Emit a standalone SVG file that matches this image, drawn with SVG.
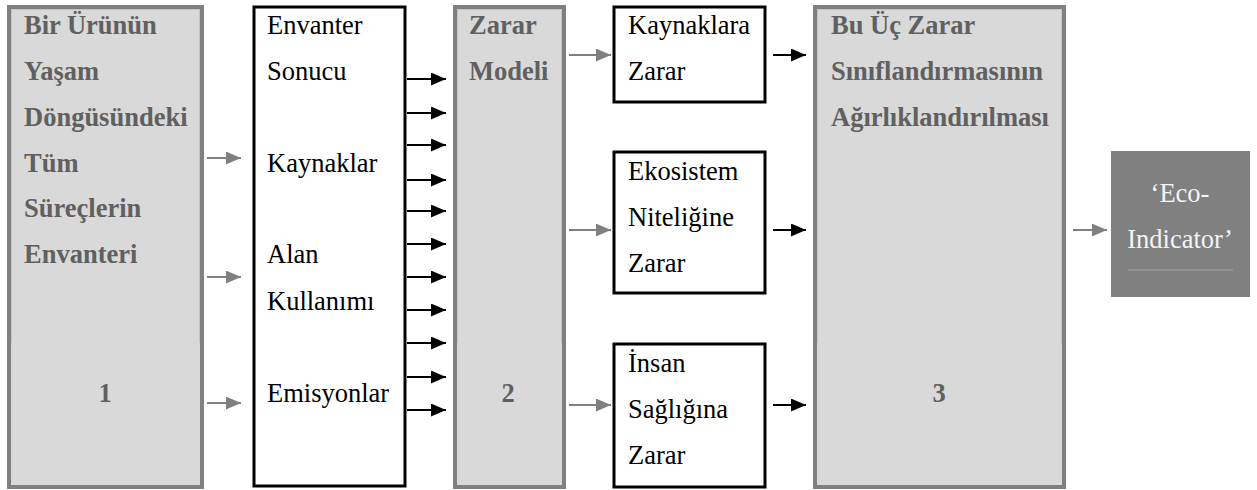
<svg xmlns="http://www.w3.org/2000/svg" width="1257" height="490" viewBox="0 0 1257 490">
  <style>
    .stage { fill: #d9d9d9; stroke: #808080; stroke-width: 4; }
    .cellLine { fill: none; stroke: #c4c4c4; stroke-width: 1; }
    .plain { fill: #ffffff; stroke: #000000; stroke-width: 3; }
    .result { fill: #808080; }
    .hd { font-weight: bold; fill: #606060; }
    .tx { fill: #000000; }
    .wt { fill: #f4f4f4; }
    .mid { text-anchor: middle; }
    .grayArrow { stroke: #808080; stroke-width: 2; fill: none; marker-end: url(#headGray); }
    .blackArrow { stroke: #000000; stroke-width: 2; fill: none; marker-end: url(#headBlack); }
  </style>
  <defs>
    <marker id="headGray" viewBox="0 0 15 13" refX="15" refY="6.5" markerWidth="15" markerHeight="13" markerUnits="userSpaceOnUse" orient="auto">
      <path d="M0,0 L15,6.5 L0,13 Z" fill="#808080"/>
    </marker>
    <marker id="headBlack" viewBox="0 0 15 13" refX="15" refY="6.5" markerWidth="15" markerHeight="13" markerUnits="userSpaceOnUse" orient="auto">
      <path d="M0,0 L15,6.5 L0,13 Z" fill="#000000"/>
    </marker>
  </defs>

  <rect width="1257" height="490" fill="#ffffff"/>

  <g font-family="Liberation Serif, Times New Roman, serif" font-size="26.5">
    <!-- Stage 1: inventory of all processes -->
    <g id="stage1">
      <rect class="stage" x="9" y="7" width="193" height="480"/>
      <path class="cellLine" d="M11.5,343 V9.5 H199.5 V343"/>
      <text class="hd" x="24" y="34">Bir Ürünün</text>
      <text class="hd" x="24" y="80">Yaşam</text>
      <text class="hd" x="24" y="126">Döngüsündeki</text>
      <text class="hd" x="24" y="172">Tüm</text>
      <text class="hd" x="24" y="217">Süreçlerin</text>
      <text class="hd" x="24" y="263">Envanteri</text>
      <text class="hd mid" x="105" y="402">1</text>
    </g>

    <!-- Inventory result -->
    <g id="inventory">
      <rect class="plain" x="254" y="7" width="151" height="479"/>
      <text class="tx" x="267" y="34">Envanter</text>
      <text class="tx" x="267" y="80">Sonucu</text>
      <text class="tx" x="267" y="172">Kaynaklar</text>
      <text class="tx" x="267" y="263">Alan</text>
      <text class="tx" x="267" y="310">Kullanımı</text>
      <text class="tx" x="267" y="402">Emisyonlar</text>
    </g>

    <!-- Stage 2: damage model -->
    <g id="stage2">
      <rect class="stage" x="455" y="7" width="109" height="480"/>
      <path class="cellLine" d="M457.5,343 V9.5 H561.5 V343"/>
      <text class="hd" x="469" y="34">Zarar</text>
      <text class="hd" x="469" y="80">Modeli</text>
      <text class="hd mid" x="508" y="402">2</text>
    </g>

    <!-- Damage categories -->
    <g id="damage-resources">
      <rect class="plain" x="614" y="7" width="151" height="95"/>
      <text class="tx" x="628" y="34">Kaynaklara</text>
      <text class="tx" x="628" y="80">Zarar</text>
    </g>
    <g id="damage-ecosystem">
      <rect class="plain" x="614" y="152" width="151" height="141"/>
      <text class="tx" x="628" y="180">Ekosistem</text>
      <text class="tx" x="628" y="226">Niteliğine</text>
      <text class="tx" x="628" y="272">Zarar</text>
    </g>
    <g id="damage-health">
      <rect class="plain" x="614" y="344" width="151" height="143"/>
      <text class="tx" x="628" y="372">İnsan</text>
      <text class="tx" x="628" y="418">Sağlığına</text>
      <text class="tx" x="628" y="464">Zarar</text>
    </g>

    <!-- Stage 3: weighting -->
    <g id="stage3">
      <rect class="stage" x="815" y="7" width="249" height="480"/>
      <path class="cellLine" d="M817.5,343 V9.5 H1061.5 V343"/>
      <text class="hd" x="831" y="34">Bu Üç Zarar</text>
      <text class="hd" x="831" y="80">Sınıflandırmasının</text>
      <text class="hd" x="831" y="126">Ağırlıklandırılması</text>
      <text class="hd mid" x="939" y="402">3</text>
    </g>

    <!-- Final indicator -->
    <g id="eco-indicator">
      <rect class="result" x="1111" y="151" width="139" height="146"/>
      <text class="wt mid" x="1180" y="202">‘Eco-</text>
      <text class="wt mid" x="1180" y="248">Indicator’</text>
      <line x1="1128" y1="270" x2="1233" y2="270" stroke="#a8a8a8" stroke-width="1"/>
    </g>
  </g>

  <!-- Connectors -->
  <g id="connectors">
    <line class="grayArrow" x1="207" y1="158" x2="241" y2="158"/>
    <line class="grayArrow" x1="207" y1="277" x2="241" y2="277"/>
    <line class="grayArrow" x1="207" y1="403" x2="241" y2="403"/>

    <line class="blackArrow" x1="407" y1="79" x2="446" y2="79"/>
    <line class="blackArrow" x1="407" y1="113" x2="446" y2="113"/>
    <line class="blackArrow" x1="407" y1="145" x2="446" y2="145"/>
    <line class="blackArrow" x1="407" y1="180" x2="446" y2="180"/>
    <line class="blackArrow" x1="407" y1="211" x2="446" y2="211"/>
    <line class="blackArrow" x1="407" y1="244" x2="446" y2="244"/>
    <line class="blackArrow" x1="407" y1="277" x2="446" y2="277"/>
    <line class="blackArrow" x1="407" y1="310" x2="446" y2="310"/>
    <line class="blackArrow" x1="407" y1="343" x2="446" y2="343"/>
    <line class="blackArrow" x1="407" y1="377" x2="446" y2="377"/>
    <line class="blackArrow" x1="407" y1="410" x2="446" y2="410"/>

    <line class="grayArrow" x1="569" y1="55" x2="611" y2="55"/>
    <line class="grayArrow" x1="569" y1="230" x2="611" y2="230"/>
    <line class="grayArrow" x1="569" y1="405" x2="611" y2="405"/>

    <line class="blackArrow" x1="773" y1="55" x2="806" y2="55"/>
    <line class="blackArrow" x1="773" y1="230" x2="806" y2="230"/>
    <line class="blackArrow" x1="773" y1="405" x2="806" y2="405"/>

    <line class="grayArrow" x1="1073" y1="230" x2="1107" y2="230"/>
  </g>
</svg>
